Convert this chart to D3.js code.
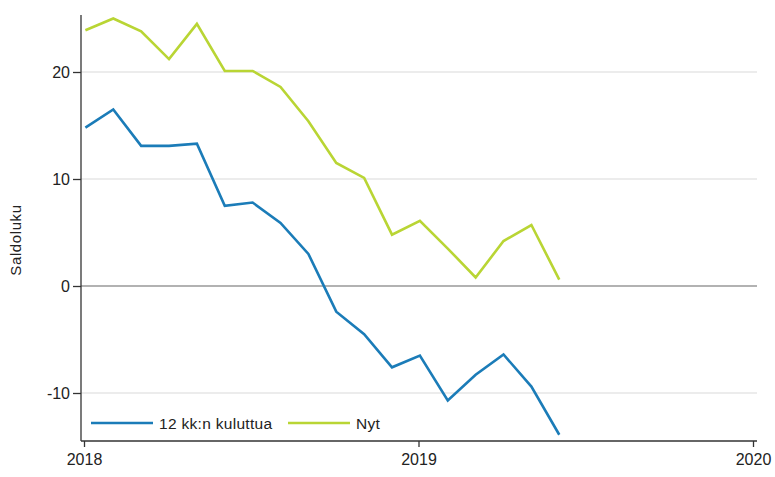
<!DOCTYPE html>
<html>
<head>
<meta charset="utf-8">
<script src="https://cdn.jsdelivr.net/npm/d3@7"></script>
<style>
  body { margin: 0; background: #fff; }
  svg text { font-family: "Liberation Sans", Arial, sans-serif; fill: #222; }
</style>
</head>
<body>
<div id="chart"></div>
<script>
// monthly points Jan 2018 .. Jun 2019
var months = d3.range(0, 18);
var nyt = [23.9, 25.0, 23.8, 21.2, 24.5, 20.1, 20.1, 18.6, 15.4, 11.5, 10.1, 4.8, 6.1, 3.5, 0.8, 4.2, 5.7, 0.6];
var kk12 = [14.8, 16.5, 13.1, 13.1, 13.3, 7.5, 7.8, 5.9, 3.0, -2.4, -4.5, -7.6, -6.5, -10.7, -8.3, -6.4, -9.4, -13.9];
var yTicks = [-10, 0, 10, 20];
var xTicks = [0, 12, 24];
var xTickLabels = ["2018", "2019", "2020"];
var seriesNames = ["12 kk:n kuluttua", "Nyt"];
var colors = ["#1b7cb8", "#b9d534"];

var W = 775, H = 477;
var svg = d3.select("#chart").append("svg")
    .attr("width", W)
    .attr("height", H);

var x = d3.scaleLinear().domain([0, 24]).range([84, 753]);
var y = d3.scaleLinear().domain([0, 10]).range([286, 179]);
var xLeft = 81, xRight = 757, yTop = 15, yBottom = 441;

// gridlines
svg.selectAll(".grid")
    .data(yTicks.filter(function (d) { return d !== 0; }))
    .enter().append("line")
    .attr("class", "grid")
    .attr("x1", xLeft).attr("x2", xRight)
    .attr("y1", function (d) { return y(d); })
    .attr("y2", function (d) { return y(d); })
    .attr("stroke", "#e6e6e6")
    .attr("stroke-width", 1.5);

// zero line
svg.append("line")
    .attr("x1", xLeft).attr("x2", xRight)
    .attr("y1", y(0)).attr("y2", y(0))
    .attr("stroke", "#999")
    .attr("stroke-width", 1.3);

// y axis
var yAxis = d3.axisLeft(y).tickValues(yTicks)
    .tickFormat(function (d) { return String(d); })
    .tickSize(8).tickPadding(3);
var gy = svg.append("g")
    .attr("transform", "translate(" + xLeft + ",0)")
    .call(yAxis);
gy.select(".domain").remove();
gy.append("line")
    .attr("y1", yTop).attr("y2", yBottom)
    .attr("stroke", "#333").attr("stroke-width", 1.3);
gy.selectAll(".tick line").attr("stroke", "#333").attr("stroke-width", 1.3);
gy.selectAll(".tick text").style("font-size", "16px").attr("fill", "#222");

// x axis
var xAxis = d3.axisBottom(x).tickValues(xTicks)
    .tickFormat(function (d, i) { return xTickLabels[i]; })
    .tickSize(6).tickPadding(7);
var gx = svg.append("g")
    .attr("transform", "translate(0," + yBottom + ")")
    .call(xAxis);
gx.select(".domain").remove();
gx.append("line")
    .attr("x1", xLeft).attr("x2", xRight)
    .attr("stroke", "#333").attr("stroke-width", 1.3);
gx.selectAll(".tick line").attr("stroke", "#333").attr("stroke-width", 1.3);
gx.selectAll(".tick text").style("font-size", "16px").attr("fill", "#222");

// y label
svg.append("text")
    .attr("transform", "translate(21,240) rotate(-90)")
    .attr("text-anchor", "middle")
    .style("font-size", "15px")
    .style("letter-spacing", "0.6px")
    .text("Saldoluku");

// lines
var line = d3.line()
    .x(function (d, i) { return x(months[i] + 0.05); })
    .y(function (d) { return y(d); });

[kk12, nyt].forEach(function (s, i) {
    svg.append("path")
        .datum(s)
        .attr("fill", "none")
        .attr("stroke", colors[i])
        .attr("stroke-width", 2.6)
        .attr("stroke-linejoin", "miter")
        .attr("d", line);
});

// legend
var legX = [91, 288];
var legY = 423;
seriesNames.forEach(function (name, i) {
    svg.append("line")
        .attr("x1", legX[i]).attr("x2", legX[i] + 62)
        .attr("y1", legY).attr("y2", legY)
        .attr("stroke", colors[i])
        .attr("stroke-width", 2.6);
    svg.append("text")
        .attr("x", legX[i] + 68)
        .attr("y", legY + 5.5)
        .style("font-size", "15.5px")
        .style("letter-spacing", "0.3px")
        .text(name);
});
</script>
</body>
</html>
